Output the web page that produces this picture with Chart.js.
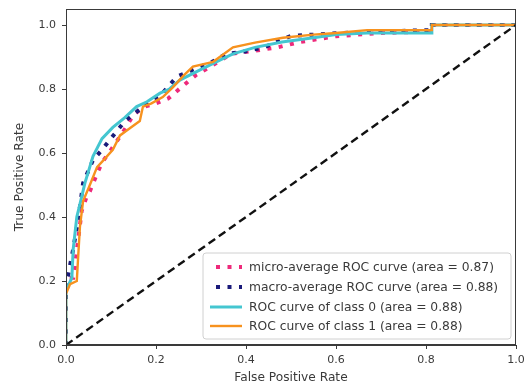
<!DOCTYPE html>
<html>
<head>
<meta charset="utf-8">
<script src="https://cdn.jsdelivr.net/npm/chart.js@4.4.0/dist/chart.umd.min.js"></script>
<style>
html,body{margin:0;padding:0;background:#fff;}
#wrap{width:529px;height:388px;position:relative;}
</style>
</head>
<body>
<div id="wrap"><canvas id="c" width="529" height="388"></canvas></div>
<script>
// ---- data ----
const tickValues = [0, 0.2, 0.4, 0.6, 0.8, 1.0];
const tickLabels = ["0.0", "0.2", "0.4", "0.6", "0.8", "1.0"];

const microFpr = [0, 0, 0.005, 0.016, 0.02, 0.027, 0.035, 0.045, 0.053, 0.069, 0.08, 0.1, 0.127, 0.15, 0.175, 0.2, 0.227, 0.26, 0.29, 0.316, 0.368, 0.42, 0.47, 0.52, 0.6, 0.7, 0.813, 0.813, 1];
const microTpr = [0, 0.19, 0.21, 0.21, 0.245, 0.33, 0.42, 0.46, 0.48, 0.536, 0.57, 0.61, 0.666, 0.72, 0.745, 0.755, 0.77, 0.81, 0.845, 0.866, 0.91, 0.92, 0.93, 0.947, 0.965, 0.975, 0.98, 1.0, 1.0];

const macroFpr = [0, 0, 0.005, 0.016, 0.027, 0.038, 0.06, 0.08, 0.094, 0.131, 0.153, 0.18, 0.21, 0.246, 0.29, 0.325, 0.357, 0.39, 0.44, 0.5, 0.615, 0.7, 0.813, 0.813, 1];
const macroTpr = [0, 0.2, 0.22, 0.30, 0.39, 0.506, 0.578, 0.61, 0.635, 0.70, 0.724, 0.755, 0.78, 0.838, 0.865, 0.885, 0.91, 0.915, 0.93, 0.966, 0.975, 0.98, 0.984, 1.0, 1.0];

const class0Fpr = [0, 0, 0.013, 0.016, 0.024, 0.031, 0.042, 0.06, 0.08, 0.104, 0.13, 0.157, 0.18, 0.209, 0.23, 0.253, 0.298, 0.342, 0.371, 0.42, 0.48, 0.55, 0.6, 0.669, 0.75, 0.813, 0.813, 1.0];
const class0Tpr = [0, 0.17, 0.21, 0.30, 0.40, 0.44, 0.506, 0.59, 0.645, 0.68, 0.71, 0.745, 0.76, 0.787, 0.80, 0.828, 0.86, 0.89, 0.91, 0.93, 0.947, 0.96, 0.97, 0.975, 0.975, 0.975, 1.0, 1.0];

const class1Fpr = [0, 0, 0.009, 0.024, 0.027, 0.031, 0.038, 0.053, 0.069, 0.085, 0.104, 0.12, 0.135, 0.164, 0.171, 0.19, 0.215, 0.238, 0.26, 0.282, 0.327, 0.371, 0.42, 0.482, 0.55, 0.6, 0.669, 0.75, 0.813, 0.813, 1];
const class1Tpr = [0, 0.16, 0.19, 0.20, 0.275, 0.37, 0.45, 0.50, 0.556, 0.58, 0.61, 0.655, 0.67, 0.70, 0.745, 0.755, 0.775, 0.806, 0.84, 0.87, 0.885, 0.93, 0.945, 0.96, 0.97, 0.975, 0.984, 0.984, 0.984, 1.0, 1.0];

const chanceFpr = [0, 1];
const chanceTpr = [0, 1];

const labels = [
  "micro-average ROC curve (area = 0.87)",
  "macro-average ROC curve (area = 0.88)",
  "ROC curve of class 0 (area = 0.88)",
  "ROC curve of class 1 (area = 0.88)"
];

function pts(xs, ys){ return xs.map((x,i)=>({x:x, y:ys[i]})); }

const FONT = "'DejaVu Sans', sans-serif";
const TXT = "#3a3a3a";

const frameAndLegend = {
  id: 'frameAndLegend',
  afterDatasetsDraw(chart){
    const ctx = chart.ctx, a = chart.chartArea;
    ctx.save();
    ctx.strokeStyle = TXT; ctx.lineWidth = 1;
    ctx.strokeRect(Math.round(a.left)+0.5, Math.round(a.top)+0.5, Math.round(a.right-a.left)-1, Math.round(a.bottom-a.top)-1);
    // legend box (lower right)
    const bx = 203, by = 253, bw = 308, bh = 86, r = 3;
    ctx.fillStyle = 'rgba(255,255,255,0.85)';
    ctx.strokeStyle = '#d0d0d0';
    ctx.beginPath();
    ctx.moveTo(bx+r, by); ctx.lineTo(bx+bw-r, by); ctx.arcTo(bx+bw, by, bx+bw, by+r, r);
    ctx.lineTo(bx+bw, by+bh-r); ctx.arcTo(bx+bw, by+bh, bx+bw-r, by+bh, r);
    ctx.lineTo(bx+r, by+bh); ctx.arcTo(bx, by+bh, bx, by+bh-r, r);
    ctx.lineTo(bx, by+r); ctx.arcTo(bx, by, bx+r, by, r);
    ctx.closePath(); ctx.fill(); ctx.stroke();
    const ds = chart.data.datasets;
    const rows = [267, 287, 307, 326];
    ctx.font = "12.3px " + FONT;
    ctx.textBaseline = 'middle';
    for (let i = 0; i < 4; i++){
      const d = ds.find(o => o.label === labels[i]);
      const y = rows[i];
      ctx.strokeStyle = d.borderColor;
      ctx.lineWidth = d.borderWidth;
      ctx.setLineDash(d.borderDash || []);
      ctx.lineCap = 'butt';
      ctx.beginPath();
      if (d.borderDash && d.borderDash.length){ ctx.moveTo(216, y); ctx.lineTo(242, y); }
      else { ctx.moveTo(210, y); ctx.lineTo(242, y); }
      ctx.stroke();
      ctx.setLineDash([]);
      ctx.fillStyle = TXT;
      ctx.fillText(labels[i], 249, y + 0.5);
    }
    ctx.restore();
  }
};

const common = { showLine: true, pointRadius: 0, pointHoverRadius: 0, tension: 0, fill: false };

new Chart(document.getElementById('c'), {
  type: 'scatter',
  data: {
    datasets: [
      Object.assign({}, common, { label: labels[0], data: pts(microFpr, microTpr), borderColor: '#ee2a7b', borderWidth: 4, borderDash: [4, 7.5], order: 5 }),
      Object.assign({}, common, { label: labels[1], data: pts(macroFpr, macroTpr), borderColor: '#1a1a7a', borderWidth: 4, borderDash: [4, 7.5], order: 4 }),
      Object.assign({}, common, { label: labels[2], data: pts(class0Fpr, class0Tpr), borderColor: '#44c6d0', borderWidth: 3, order: 3 }),
      Object.assign({}, common, { label: labels[3], data: pts(class1Fpr, class1Tpr), borderColor: '#f7921e', borderWidth: 2.4, order: 2 }),
      Object.assign({}, common, { label: 'chance', data: pts(chanceFpr, chanceTpr), borderColor: '#111111', borderWidth: 2.4, borderDash: [8, 4.5], order: 1 })
    ]
  },
  options: {
    responsive: false,
    animation: false,
    layout: { padding: { left: 0, right: 13, top: 9, bottom: 0 } },
    plugins: { legend: { display: false }, tooltip: { enabled: false } },
    scales: {
      x: {
        type: 'linear', min: 0, max: 1,
        afterBuildTicks: s => { s.ticks = tickValues.map(v => ({ value: v })); },
        afterFit: s => { s.height = 43; s.paddingLeft = 0; s.paddingRight = 0; },
        ticks: { callback: (v) => tickLabels[tickValues.indexOf(v)] ?? '', color: TXT, font: { family: FONT, size: 11 }, padding: 5, maxRotation: 0 },
        grid: { display: true, drawOnChartArea: false, drawTicks: true, tickLength: 4, color: TXT },
        border: { display: true, color: TXT, width: 1 },
        title: { display: true, text: 'False Positive Rate', color: TXT, font: { family: FONT, size: 12.2 }, padding: { top: 0, bottom: 3 } }
      },
      y: {
        type: 'linear', min: 0, max: 1.05,
        afterBuildTicks: s => { s.ticks = tickValues.map(v => ({ value: v })); },
        afterFit: s => { s.width = 66; s.paddingTop = 0; s.paddingBottom = 0; },
        ticks: { callback: (v) => tickLabels[tickValues.indexOf(v)] ?? '', color: TXT, font: { family: FONT, size: 11 }, padding: 6 },
        grid: { display: true, drawOnChartArea: false, drawTicks: true, tickLength: 4, color: TXT },
        border: { display: true, color: TXT, width: 1 },
        title: { display: true, text: 'True Positive Rate', color: TXT, font: { family: FONT, size: 12.2 }, padding: { top: 13, bottom: 0 } }
      }
    }
  },
  plugins: [frameAndLegend]
});
</script>
</body>
</html>
